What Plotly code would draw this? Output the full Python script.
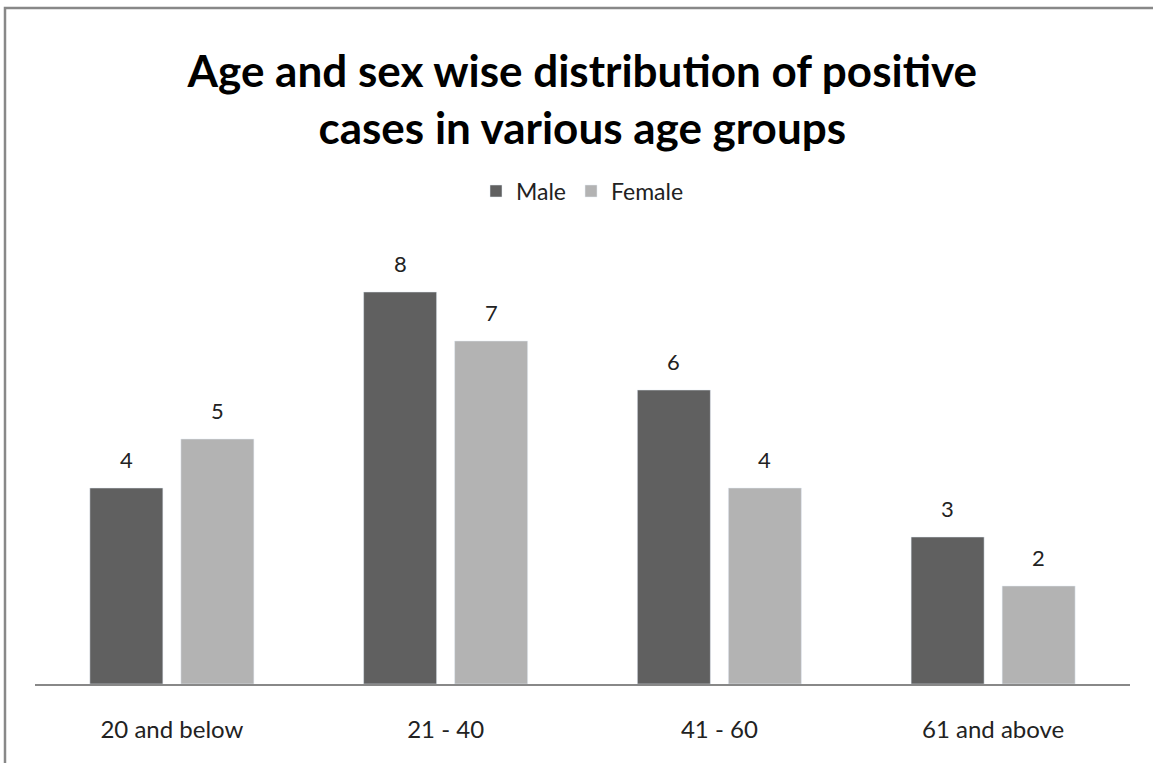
import plotly.graph_objects as go

categories = ["20 and below", "21 - 40", "41 - 60", "61 and above"]
male = [4, 8, 6, 3]
female = [5, 7, 4, 2]

FONT = "Lato"
TXT = "#222222"

fig = go.Figure()
fig.add_trace(go.Bar(name="Male", x=categories, y=male, marker_color="#606060"))
fig.add_trace(go.Bar(name="Female", x=categories, y=female, marker_color="#b3b3b3"))

# data labels placed via data coordinates (category, value)
for vals, shift in ((male, -45.5), (female, 45.5)):
    for c, v in zip(categories, vals):
        fig.add_annotation(x=c, y=v, xref="x", yref="y", text=str(v), showarrow=False,
                           xshift=shift, yanchor="bottom", yshift=13,
                           font=dict(size=22, family=FONT, color=TXT))

fig.update_layout(
    width=1153, height=763,
    margin=dict(l=35, r=23, t=194, b=79),
    paper_bgcolor="white", plot_bgcolor="white",
    barmode="group", bargap=0.335, bargroupgap=0.198,
    font=dict(family=FONT, size=22, color=TXT),
    title=dict(text="<b>Age and sex wise distribution of positive<br>cases in various age groups</b>",
               x=0.505, xanchor="center", y=0.886, yanchor="middle",
               font=dict(size=44, family=FONT, color="#000000")),
    legend=dict(orientation="h", x=0.5, xanchor="center", y=1.006, yanchor="middle",
                font=dict(size=23, family=FONT, color=TXT), itemwidth=30),
    showlegend=True,
)
fig.update_xaxes(showline=True, linecolor="#888888", linewidth=1.5, ticks="",
                 ticklabelstandoff=23, tickfont=dict(size=24, family=FONT, color=TXT))
fig.update_yaxes(range=[0, 10], visible=False)

fig.add_shape(type="path", xref="paper", yref="paper",
              path="M -0.0274,-0.3 L -0.0274,1.3796 L 1.05,1.3796",
              line=dict(color="#888888", width=2.5))

fig.write_html("out.html")
